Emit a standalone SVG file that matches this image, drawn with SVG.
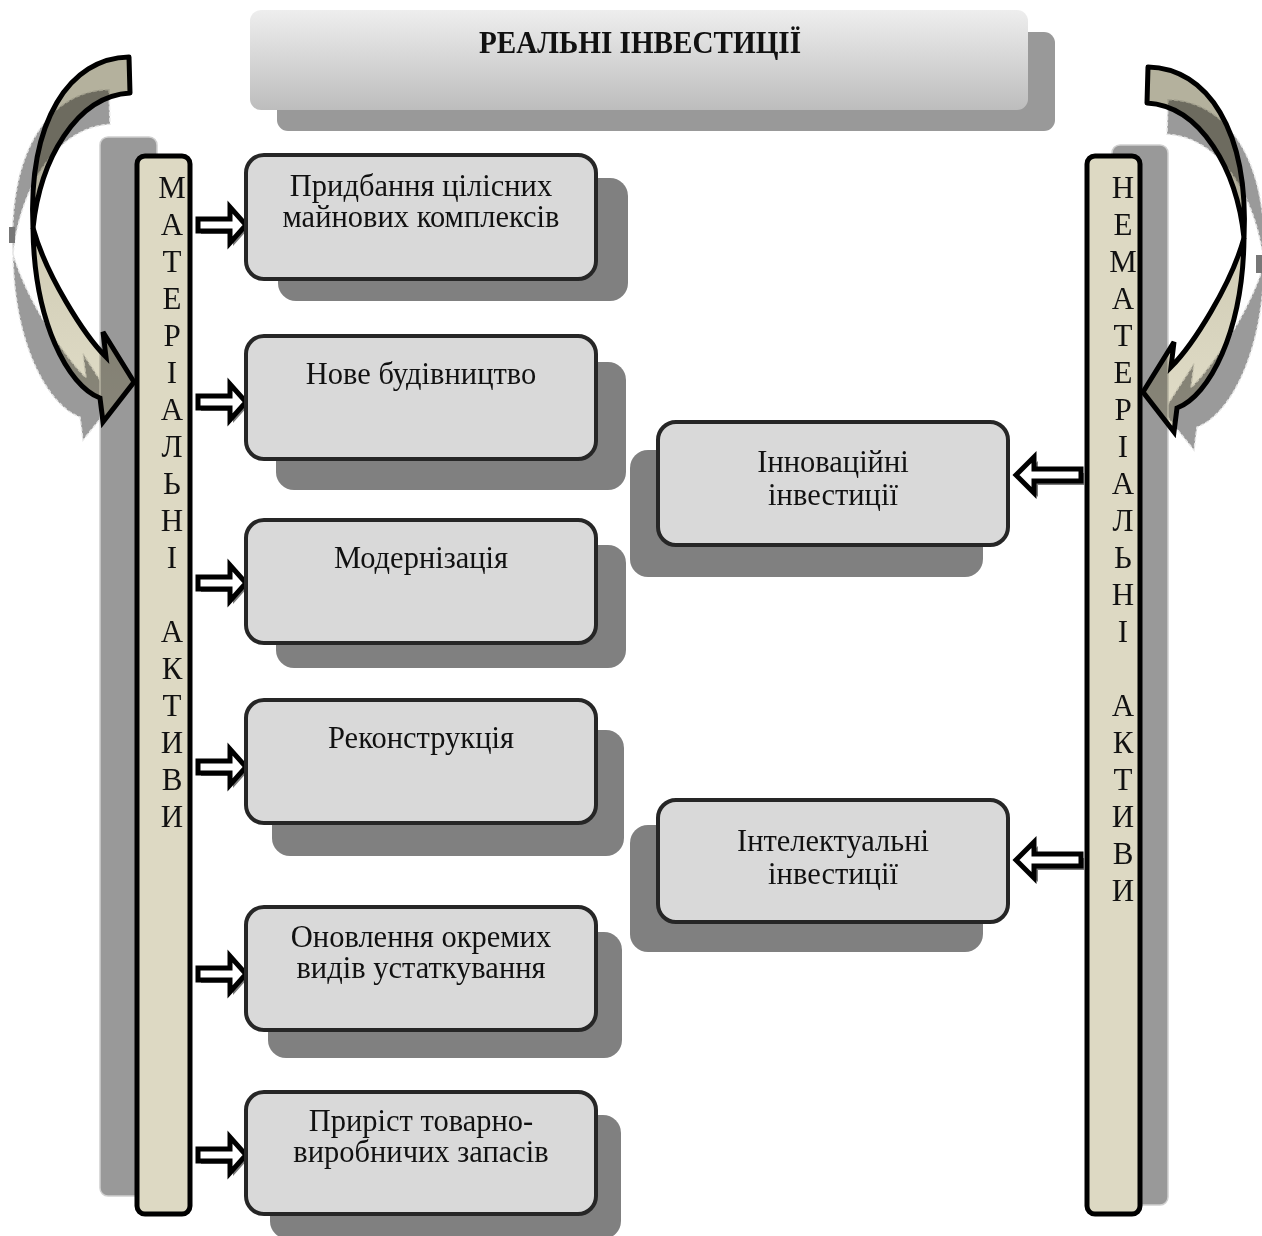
<svg xmlns="http://www.w3.org/2000/svg" width="1262" height="1236" viewBox="0 0 1262 1236">
  <style>
    .box { fill: #d9d9d9; stroke: #262626; stroke-width: 4; }
    .shd { fill: #808080; }
    .bar { fill: #ddd9c3; stroke: #000; stroke-width: 5; }
    .barshd { fill: #999; stroke: #d0d0d0; stroke-width: 1.5; }
    .lbl { font-family: "Liberation Serif", "Times New Roman", serif; font-size: 30.5px; fill: #111; text-anchor: middle; }
    .vt { font-family: "Liberation Serif", "Times New Roman", serif; font-size: 31px; fill: #111; text-anchor: middle; }
    .arr { fill: #fff; stroke: #000; stroke-width: 5; stroke-linejoin: miter; }
    .arrshd { fill: #7a7a7a; }
    .curlshd { fill: #9a9a9a; stroke: #e6e6e6; stroke-width: 1.5; stroke-dasharray: 4 2; }
    .curlback { fill: #b4b19d; stroke: #000; stroke-width: 5; stroke-linejoin: round; }
    .curlfront { fill: url(#curlGrad); stroke: #000; stroke-width: 5; stroke-linejoin: miter; }
  </style>
  <defs>
    <linearGradient id="titleGrad" x1="0" y1="0" x2="0" y2="1">
      <stop offset="0" stop-color="#eeeeee"/>
      <stop offset="1" stop-color="#bdbdbd"/>
    </linearGradient>
    <linearGradient id="curlGrad" x1="0" y1="0" x2="0" y2="1">
      <stop offset="0" stop-color="#cfcbb4"/>
      <stop offset="1" stop-color="#e2dec9"/>
    </linearGradient>
    <!-- curved arrow pieces, drawn for the left side; the right one is a mirror -->
    <path id="curlBack" d="M129,57 C70,58 28,120 33,228 C40,160 76,96 130,93 Z"/>
    <path id="curlFront" d="M33,228 C34,322 68,386 100,398 L103,422 L134,382 L103,332 L106,357 C84,335 46,275 33,228 Z"/>
    <path id="curlWhole" d="M129,57 C70,58 28,120 33,228 C34,322 68,386 100,398 L103,422 L134,382 L103,332 L106,357 C84,335 46,275 33,228 C40,160 76,96 130,93 Z"/>
    <!-- small block arrows -->
    <path id="arrR" d="M198,-6 H230 V-18 L246,0 L230,18 V6 H198 Z"/>
    <path id="arrL" d="M1081,-6 H1034 V-18 L1016,0 L1034,18 V6 H1081 Z"/>
  </defs>

  <rect x="0" y="0" width="1262" height="1236" fill="#fff"/>

  <!-- title -->
  <g id="title">
    <rect x="277" y="32" width="778" height="99" rx="11" fill="#999"/>
    <rect x="250" y="10" width="778" height="100" rx="11" fill="url(#titleGrad)"/>
    <text x="640" y="53" font-family="'Liberation Serif', 'Times New Roman', serif" font-size="31" font-weight="bold" text-anchor="middle" fill="#111" textLength="322" lengthAdjust="spacingAndGlyphs">РЕАЛЬНІ ІНВЕСТИЦІЇ</text>
  </g>

  <!-- curved arrow shadows -->
  <g id="curl-shadows">
    <use href="#curlWhole" class="curlshd" transform="matrix(1,0,0,0.96,-20,35)"/>
    <rect x="9" y="227" width="6" height="16" fill="#777"/>
    <g transform="translate(1277,10) scale(-1,1)">
      <use href="#curlWhole" class="curlshd" transform="matrix(1,0,0,0.96,-20,35)"/>
    </g>
    <rect x="1256" y="255" width="6" height="18" fill="#777"/>
  </g>

  <!-- bar shadows -->
  <rect x="100" y="137" width="57" height="1059" rx="8" class="barshd"/>
  <rect x="1112" y="145" width="56" height="1060" rx="8" class="barshd"/>

  <!-- curved arrows -->
  <g id="curl-left" style="mix-blend-mode:multiply">
    <use href="#curlBack" class="curlback"/>
    <use href="#curlFront" class="curlfront"/>
  </g>
  <g id="curl-right" style="mix-blend-mode:multiply" transform="translate(1277,10) scale(-1,1)">
    <use href="#curlBack" class="curlback"/>
    <use href="#curlFront" class="curlfront"/>
  </g>

  <!-- left vertical bar -->
  <g id="bar-material">
    <rect x="137" y="156" width="53" height="1058" rx="8" class="bar"/>
    <text class="vt" x="172" y="198">М</text>
    <text class="vt" x="172" y="235">А</text>
    <text class="vt" x="172" y="272">Т</text>
    <text class="vt" x="172" y="309">Е</text>
    <text class="vt" x="172" y="346">Р</text>
    <text class="vt" x="172" y="383">І</text>
    <text class="vt" x="172" y="420">А</text>
    <text class="vt" x="172" y="457">Л</text>
    <text class="vt" x="172" y="494">Ь</text>
    <text class="vt" x="172" y="531">Н</text>
    <text class="vt" x="172" y="568">І</text>
    <text class="vt" x="172" y="642">А</text>
    <text class="vt" x="172" y="679">К</text>
    <text class="vt" x="172" y="716">Т</text>
    <text class="vt" x="172" y="753">И</text>
    <text class="vt" x="172" y="790">В</text>
    <text class="vt" x="172" y="827">И</text>
  </g>

  <!-- right vertical bar -->
  <g id="bar-nonmaterial">
    <rect x="1087" y="156" width="53" height="1058" rx="8" class="bar"/>
    <text class="vt" x="1123" y="198">Н</text>
    <text class="vt" x="1123" y="235">Е</text>
    <text class="vt" x="1123" y="272">М</text>
    <text class="vt" x="1123" y="309">А</text>
    <text class="vt" x="1123" y="346">Т</text>
    <text class="vt" x="1123" y="383">Е</text>
    <text class="vt" x="1123" y="420">Р</text>
    <text class="vt" x="1123" y="457">І</text>
    <text class="vt" x="1123" y="494">А</text>
    <text class="vt" x="1123" y="531">Л</text>
    <text class="vt" x="1123" y="568">Ь</text>
    <text class="vt" x="1123" y="605">Н</text>
    <text class="vt" x="1123" y="642">І</text>
    <text class="vt" x="1123" y="716">А</text>
    <text class="vt" x="1123" y="753">К</text>
    <text class="vt" x="1123" y="790">Т</text>
    <text class="vt" x="1123" y="827">И</text>
    <text class="vt" x="1123" y="864">В</text>
    <text class="vt" x="1123" y="901">И</text>
  </g>

  <!-- connectors: block arrows from the bars to the boxes -->
  <g id="connectors">
    <g transform="translate(0,225)"><use href="#arrR" class="arrshd" x="3" y="3"/><use href="#arrR" class="arr"/></g>
    <g transform="translate(0,402)"><use href="#arrR" class="arrshd" x="3" y="3"/><use href="#arrR" class="arr"/></g>
    <g transform="translate(0,583)"><use href="#arrR" class="arrshd" x="3" y="3"/><use href="#arrR" class="arr"/></g>
    <g transform="translate(0,767)"><use href="#arrR" class="arrshd" x="3" y="3"/><use href="#arrR" class="arr"/></g>
    <g transform="translate(0,974)"><use href="#arrR" class="arrshd" x="3" y="3"/><use href="#arrR" class="arr"/></g>
    <g transform="translate(0,1155)"><use href="#arrR" class="arrshd" x="3" y="3"/><use href="#arrR" class="arr"/></g>
    <g transform="translate(0,475)"><use href="#arrL" class="arrshd" x="4" y="4"/><use href="#arrL" class="arr"/></g>
    <g transform="translate(0,860)"><use href="#arrL" class="arrshd" x="4" y="4"/><use href="#arrL" class="arr"/></g>
  </g>

  <!-- material asset boxes -->
  <g id="box-acquisition">
    <rect x="278" y="178" width="350" height="123" rx="18" class="shd"/>
    <rect x="246" y="155" width="350" height="124" rx="18" class="box"/>
    <text class="lbl" x="421" y="196">Придбання цілісних</text>
    <text class="lbl" x="421" y="227">майнових комплексів</text>
  </g>
  <g id="box-construction">
    <rect x="276" y="362" width="350" height="128" rx="18" class="shd"/>
    <rect x="246" y="336" width="350" height="123" rx="18" class="box"/>
    <text class="lbl" x="421" y="384">Нове будівництво</text>
  </g>
  <g id="box-modernization">
    <rect x="276" y="545" width="350" height="123" rx="18" class="shd"/>
    <rect x="246" y="520" width="350" height="123" rx="18" class="box"/>
    <text class="lbl" x="421" y="568">Модернізація</text>
  </g>
  <g id="box-reconstruction">
    <rect x="272" y="730" width="352" height="126" rx="18" class="shd"/>
    <rect x="246" y="700" width="350" height="123" rx="18" class="box"/>
    <text class="lbl" x="421" y="748">Реконструкція</text>
  </g>
  <g id="box-equipment">
    <rect x="268" y="932" width="354" height="126" rx="18" class="shd"/>
    <rect x="246" y="907" width="350" height="123" rx="18" class="box"/>
    <text class="lbl" x="421" y="947">Оновлення окремих</text>
    <text class="lbl" x="421" y="978">видів устаткування</text>
  </g>
  <g id="box-inventory">
    <rect x="270" y="1115" width="351" height="124" rx="18" class="shd"/>
    <rect x="246" y="1092" width="350" height="122" rx="18" class="box"/>
    <text class="lbl" x="421" y="1131">Приріст товарно-</text>
    <text class="lbl" x="421" y="1162">виробничих запасів</text>
  </g>

  <!-- intangible asset boxes -->
  <g id="box-innovation">
    <rect x="630" y="450" width="353" height="127" rx="18" class="shd"/>
    <rect x="658" y="422" width="350" height="123" rx="18" class="box"/>
    <text class="lbl" x="833" y="472">Інноваційні</text>
    <text class="lbl" x="833" y="505">інвестиції</text>
  </g>
  <g id="box-intellectual">
    <rect x="630" y="825" width="353" height="127" rx="18" class="shd"/>
    <rect x="658" y="800" width="350" height="122" rx="18" class="box"/>
    <text class="lbl" x="833" y="851">Інтелектуальні</text>
    <text class="lbl" x="833" y="884">інвестиції</text>
  </g>
</svg>
